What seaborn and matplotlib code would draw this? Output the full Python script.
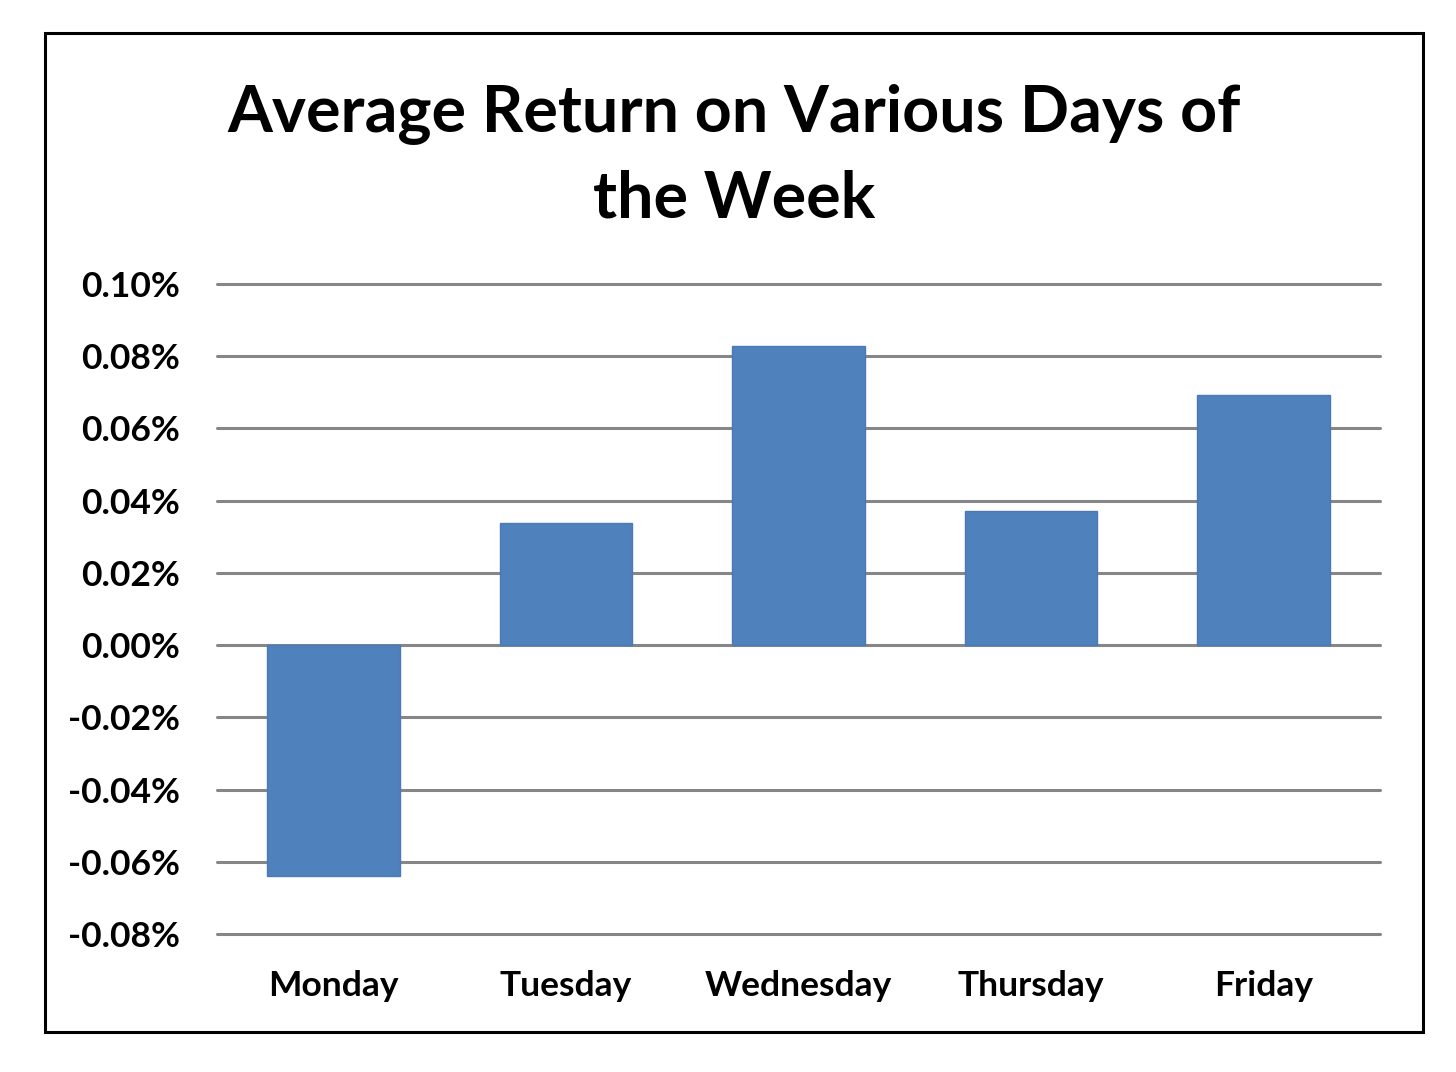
import matplotlib
matplotlib.use("Agg")
import matplotlib.pyplot as plt
import seaborn as sns
import pandas as pd
from matplotlib.patches import Rectangle
from matplotlib.ticker import FuncFormatter

days = ["Monday", "Tuesday", "Wednesday", "Thursday", "Friday"]
avg_return_pct = [-0.0639, 0.0337, 0.0828, 0.0372, 0.0694]
y_ticks = [-0.08, -0.06, -0.04, -0.02, 0.00, 0.02, 0.04, 0.06, 0.08, 0.10]

sns.set_theme(style="white")
plt.rcParams["font.family"] = ["Lato", "DejaVu Sans"]

df = pd.DataFrame({"day": days, "ret": avg_return_pct})

fig = plt.figure(figsize=(14.56, 10.72), dpi=100)
ax = fig.add_axes([217/1456, 1 - 934/1072, (1380 - 217)/1456, (934 - 284)/1072])

for t in y_ticks:
    ax.axhline(t, color="#868686", lw=2.2, zorder=0, clip_on=False)

sns.barplot(data=df, x="day", y="ret", color="#4F81BD", saturation=1,
            width=0.57, ax=ax, zorder=2, edgecolor="#4A7AB5", linewidth=1)

ax.set_ylim(-0.08, 0.10)
ax.set_xlim(-0.5, 4.5)
ax.set_yticks(y_ticks)
ax.yaxis.set_major_formatter(FuncFormatter(lambda v, p: f"{v:.2f}%"))
ax.set_xlabel("")
ax.set_ylabel("")
for s in ax.spines.values():
    s.set_visible(False)
ax.tick_params(axis="y", length=0, pad=27, labelsize=25.5)
ax.tick_params(axis="x", length=0, pad=26, labelsize=25.5)
for lab in ax.get_xticklabels() + ax.get_yticklabels():
    lab.set_fontweight("bold")
    lab.set_color("black")

fig.text(734/1456, 1 - 132/1072, "Average Return on Various Days of",
         ha="center", va="baseline", fontsize=46.5, fontweight="bold", color="black")
fig.text(734/1456, 1 - 217/1072, "the Week",
         ha="center", va="baseline", fontsize=46.5, fontweight="bold", color="black")

fig.patches.append(Rectangle((45/1456, 1 - 1032/1072), (1423 - 45)/1456, (1032 - 33)/1072,
                             transform=fig.transFigure, fill=False, edgecolor="black",
                             linewidth=2.2, zorder=10))

fig.savefig("out.png", dpi=100, facecolor="white")
